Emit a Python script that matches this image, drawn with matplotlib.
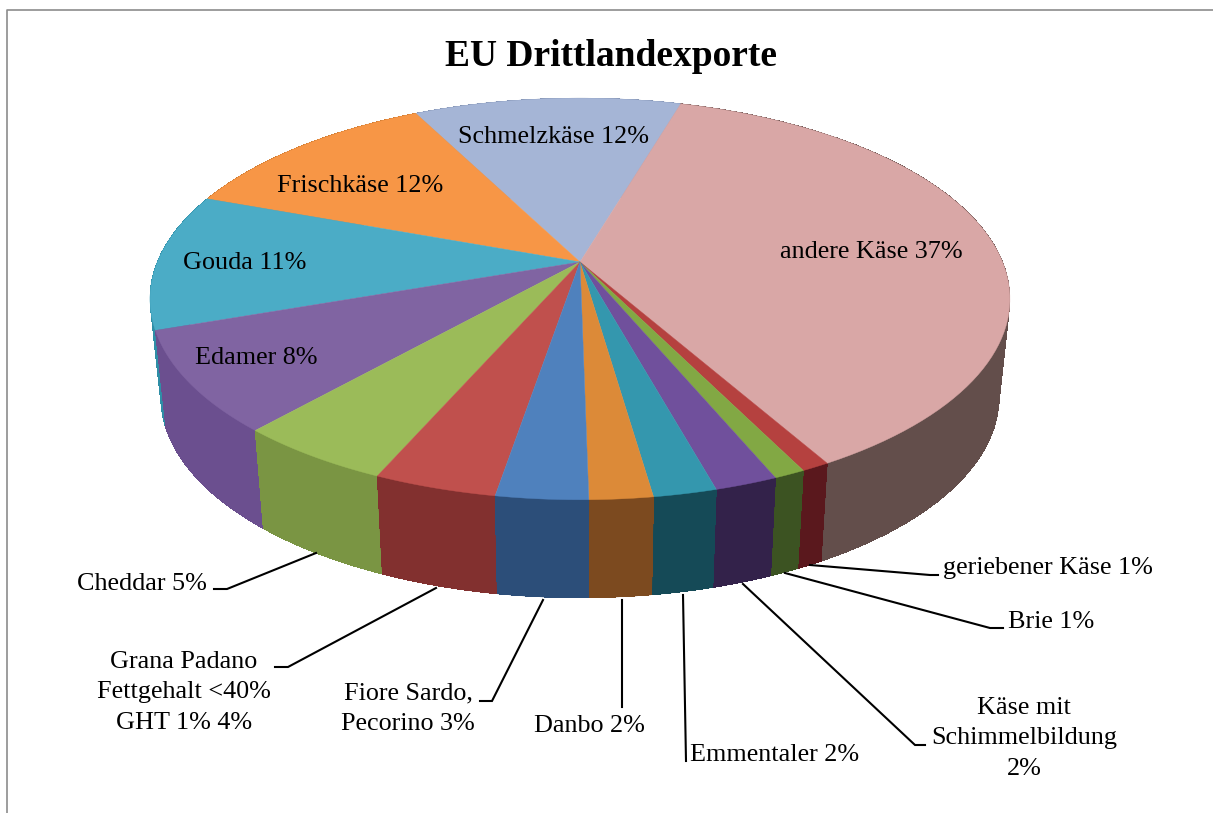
import numpy as np
import matplotlib
matplotlib.use("Agg")
import matplotlib.pyplot as plt

plt.rcParams["font.family"] = ["Liberation Serif", "DejaVu Serif"]

names = ["andere Käse", "geriebener Käse", "Brie", "Käse mit\nSchimmelbildung\n", "Emmentaler", "Danbo",
         "Fiore Sardo,\nPecorino", "Grana Padano\nFettgehalt <40%\nGHT 1%", "Cheddar", "Edamer", "Gouda",
         "Frischkäse", "Schmelzkäse"]
values = [37.3, 0.9, 1.0, 2.0, 2.0, 2.0, 2.9, 3.9, 5.0, 8.1, 11.0, 11.9, 12.0]
percent = [37, 1, 1, 2, 2, 2, 3, 4, 5, 8, 11, 12, 12]
top_colors = ["#D9A7A6", "#B5413F", "#82A844", "#70509C", "#3497AE", "#DC8A38", "#4F81BD",
              "#C0504D", "#9BBB59", "#8064A2", "#4BACC6", "#F79646", "#A5B5D6"]
side_colors = ["#634E4B", "#5A181D", "#3C5322", "#33224A", "#154A57", "#7C4A1F", "#2C4E79",
               "#82302F", "#7A9543", "#6B4F8F", "#2F8EA6", "#C87830", "#8090B0"]

label_pos = [(871, 252), (1048, 568), (1051, 622), (1024, 738), (775, 755), (589, 726),
             (408, 709), (184, 692), (142, 584), (256, 358), (245, 263), (360, 186), (553, 137)]
leaders = {
    1: [(810, 565), (930, 575), (938, 575)],
    2: [(785, 573), (990, 628), (1003, 628)],
    3: [(743, 584), (915, 745), (925, 745)],
    4: [(683, 595), (686, 761)],
    5: [(622, 600), (622, 707)],
    6: [(543, 600), (492, 701), (480, 701)],
    7: [(436, 588), (288, 667), (275, 667)],
    8: [(316, 553), (227, 589), (214, 589)],
}

start_angle = 16.3
cx, cy = 580, 262
scale_x, scale_y, persp = 422.6, 194, 0.184
depth, shrink = 98, 0.975


def project(theta, lower=False):
    # clockwise angle from the back of the pie -> image pixels
    t = np.radians(theta)
    u, v = np.sin(t), np.cos(t)
    w = 1 + persp * v
    x = scale_x * u / w
    y = cy - scale_y * v / w
    if lower:
        return cx + x * shrink, y + depth
    return cx + x, y


fig = plt.figure(figsize=(12.13, 8.13), dpi=100)
ax = fig.add_axes([0, 0, 1, 1])
ax.set_xlim(0, 1213)
ax.set_ylim(813, 0)
ax.axis("off")

edges = start_angle + np.cumsum([0] + values) * 360 / sum(values)

# sides first, back to front; quads keep the silhouette straight, no antialias so no seams
slices = list(range(len(values)))
slices.sort(key=lambda i: np.cos(np.radians((edges[i] + edges[i + 1]) / 2)), reverse=True)
for i in slices:
    th = np.linspace(edges[i], edges[i + 1], 40)
    x1, y1 = project(th)
    x2, y2 = project(th, lower=True)
    for j in range(len(th) - 1):
        ax.fill([x1[j], x1[j + 1], x2[j + 1], x2[j]], [y1[j], y1[j + 1], y2[j + 1], y2[j]],
                color=side_colors[i], lw=0, antialiased=False, zorder=2)
    ax.fill(np.r_[x1, x2[::-1]], np.r_[y1, y2[::-1]], color=side_colors[i], lw=0.3, zorder=2)

for i in slices:
    th = np.linspace(edges[i], edges[i + 1], 80)
    x1, y1 = project(th)
    ax.fill(np.r_[cx, x1], np.r_[cy, y1], color=top_colors[i], lw=0.3, zorder=3)

for i, pts in leaders.items():
    ax.plot([p[0] for p in pts], [p[1] for p in pts], color="black", lw=1.5, zorder=4,
            solid_joinstyle="miter")

for i in range(len(names)):
    if names[i].endswith("\n"):
        txt = names[i] + str(percent[i]) + "%"
    else:
        txt = names[i] + " " + str(percent[i]) + "%"
    ax.text(label_pos[i][0], label_pos[i][1], txt, fontsize=18.8, ha="center", va="center",
            linespacing=1.5, color="black", zorder=5)

ax.text(611, 57, "EU Drittlandexporte", fontsize=27, fontweight="bold", ha="center", va="center", zorder=5)

# chart frame, only top and left are inside the crop
ax.plot([6.5, 6.5, 1213], [813, 10.5, 10.5], color="#8C8C8C", lw=1.2, zorder=1)

fig.savefig("out.png", dpi=100)
